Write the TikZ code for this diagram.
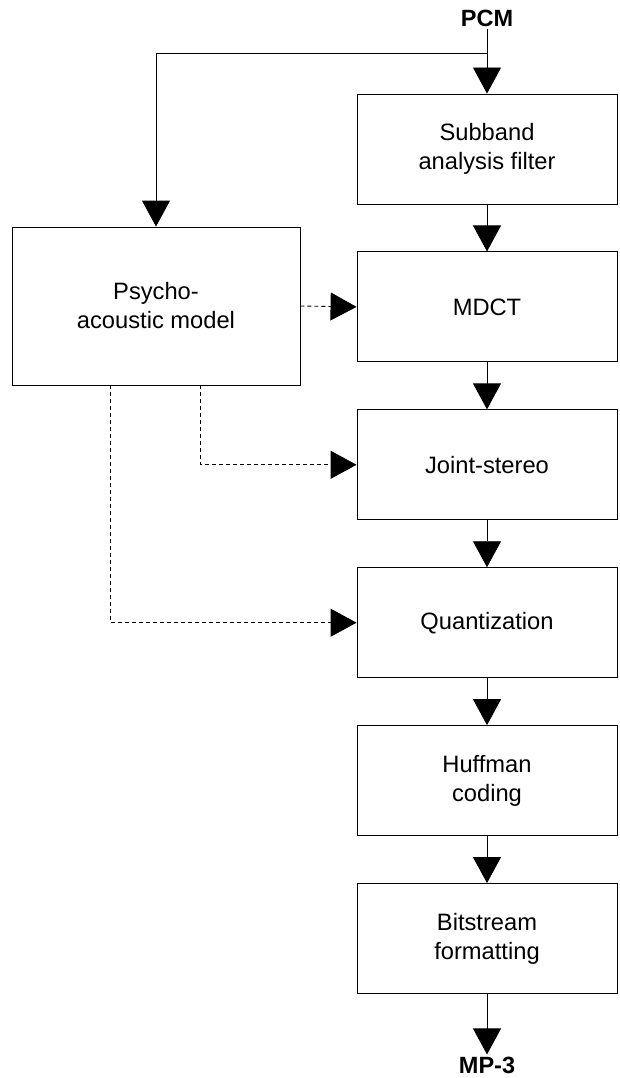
\documentclass[tikz,border=0pt]{standalone}
\usepackage{fontspec}
\setmainfont{Liberation Sans}
\usetikzlibrary{arrows.meta, positioning}

\begin{document}
\begin{tikzpicture}[
    x=1pt, y=-1pt,
    node distance=47pt,
    box/.style={rectangle, draw, line width=0.9pt, minimum width=260pt, minimum height=110pt, align=center, font=\fontsize{23.7}{29}\selectfont},
    io/.style={font=\fontsize{23.5}{28}\selectfont\bfseries, inner sep=2pt},
    arrow/.style={-{Triangle[length=26pt, width=28pt]}, line width=0.9pt},
    dline/.style={arrow, dashed, dash pattern=on 4pt off 3pt}
]
\useasboundingbox (0,0) rectangle (619,1078);

% Main chain
\node[box] (sub) at (487,149) {Subband\\analysis filter};
\node[box, below=of sub] (mdct) {MDCT};
\node[box, below=of mdct] (joint) {Joint-stereo};
\node[box, below=of joint] (quant) {Quantization};
\node[box, below=of quant] (huff) {Huffman\\coding};
\node[box, below=of huff] (bits) {Bitstream\\formatting};

% Psychoacoustic model
\node[box, minimum width=288pt, minimum height=158pt] (psy) at (156,306) {Psycho-\\acoustic model};

% Input / output
\node[io] (pcm) at (487,18) {PCM};
\node[io] (mp3) at (487,1065) {MP-3};
\coordinate (split) at (487,53);

% Arrows
\draw[arrow] (pcm.south) -- (sub.north);
\draw[arrow] (split) -| (psy.north);
\draw[arrow] (sub) -- (mdct);
\draw[arrow] (mdct) -- (joint);
\draw[arrow] (joint) -- (quant);
\draw[arrow] (quant) -- (huff);
\draw[arrow] (huff) -- (bits);
\draw[arrow] (bits.south) -- (mp3.north);

% Control paths
\draw[dline] (psy.east) -- (mdct.west);
\draw[dline] ([xshift=189pt]psy.south west) |- (joint.west);
\draw[dline] ([xshift=99pt]psy.south west) |- (quant.west);

\end{tikzpicture}
\end{document}
